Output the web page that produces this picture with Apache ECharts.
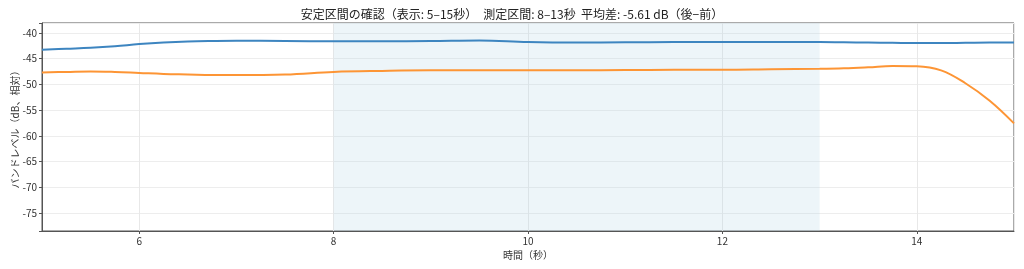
<!DOCTYPE html>
<html><head><meta charset="utf-8">
<script src="https://cdn.jsdelivr.net/npm/echarts@6/dist/echarts.min.js"></script>
<style>html,body{margin:0;padding:0;background:#fff}#c{width:1024px;height:269px}</style>
</head><body><div id="c"></div>
<script>
const times = [5.0,5.25,5.5,5.75,6.0,6.25,6.5,6.75,7.0,7.5,8.0,8.5,9.0,9.5,10.0,10.5,11.0,11.5,12.0,12.5,13.0,13.25,13.5,13.75,14.0,14.25,14.5,14.75,15.0];
const beforeLevel = [-43.3,-43.1,-42.9,-42.6,-42.2,-41.9,-41.7,-41.6,-41.55,-41.6,-41.65,-41.65,-41.6,-41.5,-41.8,-41.9,-41.85,-41.8,-41.8,-41.8,-41.8,-41.85,-41.9,-41.95,-42.0,-42.0,-41.95,-41.9,-41.9];
const afterLevel = [-47.7,-47.6,-47.5,-47.6,-47.8,-48.0,-48.1,-48.2,-48.2,-48.1,-47.6,-47.4,-47.3,-47.3,-47.3,-47.3,-47.25,-47.2,-47.2,-47.1,-47.0,-46.9,-46.7,-46.45,-46.5,-47.3,-49.8,-53.2,-57.6];
const measureRange = [8, 13];
const titleText = '安定区間の確認（表示: 5–15秒）　測定区間: 8–13秒  平均差: -5.61 dB（後−前）';

const font = '"Noto Sans CJK JP", "Noto Sans", sans-serif';
const chart = echarts.init(document.getElementById('c'), null, {renderer:'canvas'});
chart.setOption({
  animation:false,
  backgroundColor:'#fff',
  title:{text:titleText,left:'center',top:3,textStyle:{fontFamily:font,fontSize:12,fontWeight:'normal',color:'#222'}},
  grid:{left:42,right:10,top:23,bottom:38,show:true,borderColor:'#555',borderWidth:1,containLabel:false,outerBoundsMode:'none'},
  xAxis:{type:'value',min:5,max:15,splitNumber:5,
    name:'時間（秒）',nameLocation:'middle',nameGap:19,nameMoveOverlap:false,nameTextStyle:{fontFamily:font,fontSize:10,color:'#333'},
    axisLine:{show:true,onZero:false,lineStyle:{color:'#555'}},
    axisTick:{show:true,length:3,lineStyle:{color:'#555'}},
    axisLabel:{fontFamily:font,fontSize:10,color:'#333',margin:5,showMinLabel:false,showMaxLabel:false},
    splitLine:{show:true,lineStyle:{color:'#e8e8e8'}}},
  yAxis:{type:'value',min:-78.5,max:-38.1,splitNumber:8,
    name:'バンドレベル（dB、相対）',nameLocation:'middle',nameGap:22,nameMoveOverlap:false,nameTextStyle:{fontFamily:font,fontSize:10,color:'#333'},
    axisLine:{show:true,lineStyle:{color:'#555'}},
    axisTick:{show:true,length:3,lineStyle:{color:'#555'}},
    axisLabel:{fontFamily:font,fontSize:10,color:'#333',margin:5,
      formatter:v=> (Math.abs(v%5)<1e-6 ? v : '')},
    splitLine:{show:true,lineStyle:{color:'#ededed'}}},
  series:[
    {type:'line',data:times.map((t,i)=>[t,beforeLevel[i]]),smooth:0.4,symbol:'none',
     lineStyle:{color:'#3d85c0',width:2},
     markArea:{silent:true,itemStyle:{color:'rgba(173,208,228,0.22)'},data:[[{xAxis:measureRange[0]},{xAxis:measureRange[1]}]]},
     z:3},
    {type:'line',data:times.map((t,i)=>[t,afterLevel[i]]),smooth:0.4,symbol:'none',
     lineStyle:{color:'#fd9535',width:2},z:3}
  ]
});
</script></body></html>
